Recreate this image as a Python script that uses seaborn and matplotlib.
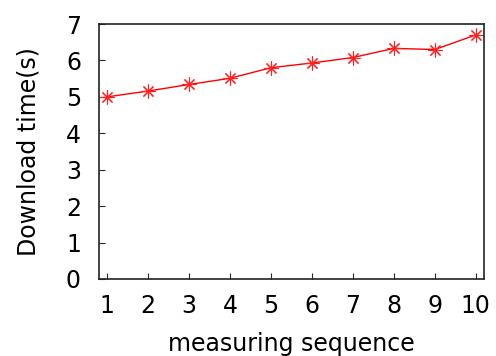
import matplotlib
matplotlib.use('Agg')
import matplotlib.pyplot as plt
import seaborn as sns
import pandas as pd

seq = [1, 2, 3, 4, 5, 6, 7, 8, 9, 10]
download_time = [5.0, 5.16, 5.34, 5.51, 5.80, 5.93, 6.08, 6.33, 6.30, 6.70]

df = pd.DataFrame({'seq': seq, 'time': download_time})

sns.set_style('ticks')
plt.rcParams['font.family'] = ['DejaVu Sans']
plt.rcParams['text.color'] = 'black'
plt.rcParams['xtick.labelcolor'] = 'black'
plt.rcParams['ytick.labelcolor'] = 'black'
plt.rcParams['axes.labelcolor'] = 'black'

fig = plt.figure(figsize=(4.96, 3.56), dpi=100)
ax = fig.add_axes([99 / 496, 1 - 279 / 356, 385 / 496, 255 / 356])

sns.lineplot(data=df, x='seq', y='time', ax=ax, color='#ff0000', lw=1,
             marker=(8, 2, 0), markersize=10, markeredgecolor='#ff2020',
             markeredgewidth=0.8)

ax.set_xlim(0.8, 10.2)
ax.set_ylim(0, 7)
ax.set_xticks(seq)
ax.set_yticks(range(0, 8))
ax.tick_params(direction='in', length=4, width=0.8, labelsize=17)
ax.tick_params(axis='x', pad=11)
ax.tick_params(axis='y', pad=13)
for s in ax.spines.values():
    s.set_visible(True)
    s.set_linewidth(1.2)
    s.set_color('#222222')
ax.set_xlabel('measuring sequence', fontsize=17, labelpad=10)
ax.set_ylabel('Download time(s)', fontsize=17, labelpad=18)

plt.savefig('out.png', dpi=100)
